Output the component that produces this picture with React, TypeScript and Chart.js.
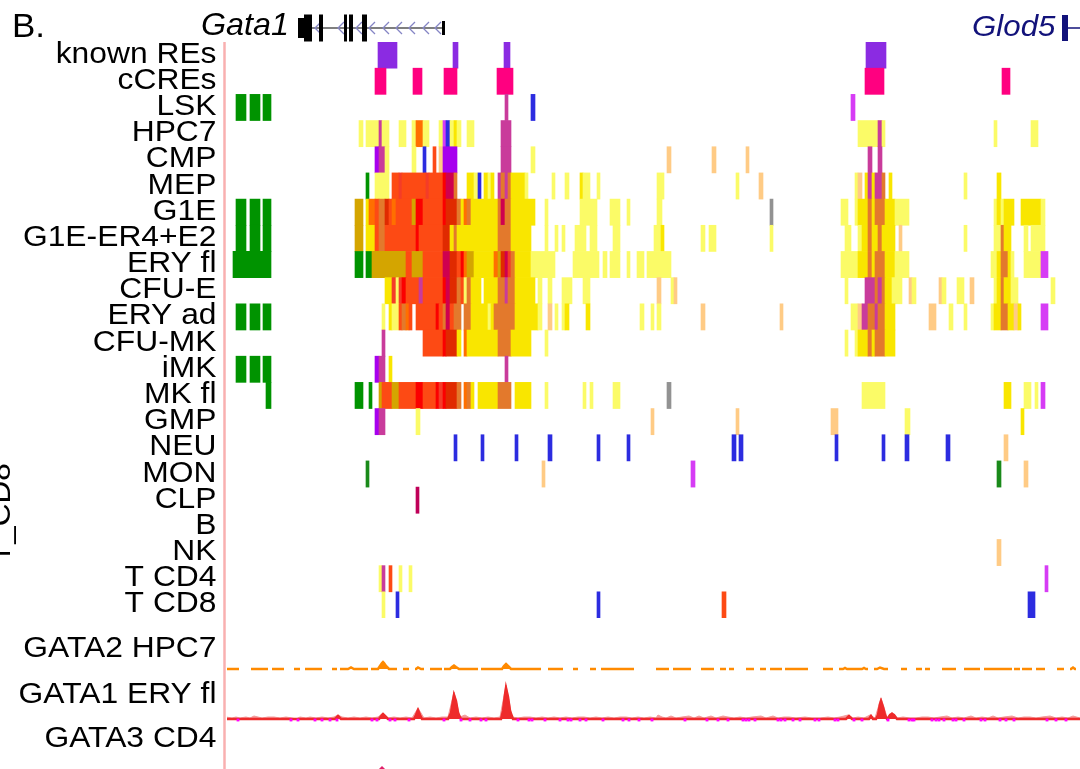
import React, { useEffect, useRef } from 'react';
import { Chart, registerables } from 'chart.js';

Chart.register(...registerables);

// ------------------------------------------------------------------
// DATA
// ------------------------------------------------------------------
// Browser coordinate range shown on the x axis (arbitrary position units)
const xMin = 227;
const xMax = 1080;

const rowLabels = [
  'known REs', 'cCREs', 'LSK', 'HPC7', 'CMP', 'MEP', 'G1E', 'G1E-ER4+E2', 'ERY fl', 'CFU-E',
  'ERY ad', 'CFU-MK', 'iMK', 'MK fl', 'GMP', 'NEU', 'MON', 'CLP', 'B', 'NK', 'T CD4', 'T CD8',
];

// Segments: [start, end, state]
type Seg = [number, number, string];

const knownREs: Seg[] = [[378, 397, 're'], [453, 458, 're'], [504, 510, 're'], [866, 886, 're']];
const cCREs: Seg[] = [[375, 386, 'cc'], [413, 422, 'cc'], [444, 457, 'cc'], [497, 513, 'cc'], [865, 884, 'cc'], [1002, 1010, 'cc']];
const LSK: Seg[] = [[236, 246, 'gr'], [250, 260, 'gr'], [263, 271, 'gr'], [505, 508, 'm'], [531, 535, 'b'], [851, 855, 'v']];
const HPC7: Seg[] = [[359, 363, 'ly'], [366, 379, 'ly'], [379, 382, 'm'], [382, 389, 'ly'], [399, 406, 'ly'], [412, 416, 'ly'], [416, 423, 'bo'], [423, 429, 'ly'], [439, 443, 'ly'], [443, 446, 'v'], [446, 450, 'b'], [450, 454, 'ly'], [454, 457, 'y'], [457, 461, 'ly'], [467, 474, 'ly'], [501, 511, 'm'], [858, 878, 'ly'], [878, 882, 'm'], [882, 885, 'ly'], [994, 997, 'ly'], [1031, 1038, 'ly']];
const CMP: Seg[] = [[375, 379, 'p'], [379, 385, 'm'], [385, 389, 'ly'], [412, 416, 'ly'], [423, 426, 'b'], [433, 436, 'or'], [439, 443, 'pe'], [443, 457, 'p'], [501, 511, 'm'], [531, 535, 'ly'], [667, 671, 'pe'], [712, 716, 'pe'], [746, 749, 'pe'], [868, 872, 'm'], [878, 882, 'm']];
const MEP: Seg[] = [[366, 369, 'gr'], [375, 389, 'ly'], [392, 399, 'or'], [399, 402, 'r2'], [402, 426, 'or'], [426, 429, 'r2'], [429, 443, 'or'], [443, 446, 'r'], [446, 454, 'cr'], [454, 457, 'o'], [467, 474, 'y'], [474, 478, 'ly'], [478, 481, 'b'], [484, 488, 'y'], [488, 491, 'ly'], [491, 494, 'y'], [498, 501, 'm'], [501, 505, 'o'], [505, 508, 'm'], [508, 511, 'o'], [511, 525, 'y'], [525, 528, 'ly'], [552, 555, 'ly'], [565, 569, 'ly'], [580, 583, 'y'], [583, 590, 'ly'], [597, 600, 'ly'], [657, 664, 'ly'], [736, 739, 'ly'], [759, 763, 'pe'], [855, 858, 'ly'], [858, 862, 'pe'], [865, 868, 'y'], [868, 872, 'm'], [872, 875, 'y'], [875, 882, 'm'], [882, 885, 'o'], [889, 892, 'y'], [964, 967, 'ly'], [997, 1001, 'y']];
const G1E: Seg[] = [[236, 246, 'gr'], [250, 260, 'gr'], [263, 271, 'gr'], [355, 363, 'g'], [366, 369, 'y'], [369, 375, 'bo'], [375, 379, 'or'], [379, 385, 'o'], [385, 389, 'dr'], [389, 392, 'or'], [392, 396, 'bo'], [396, 412, 'or'], [412, 416, 'g'], [416, 423, 'r'], [423, 443, 'or'], [443, 446, 'r'], [446, 457, 'dr'], [457, 461, 'o'], [461, 464, 'y'], [464, 467, 'bo'], [467, 471, 'o'], [471, 498, 'y'], [498, 501, 'o'], [501, 505, 'cr'], [505, 511, 'o'], [511, 535, 'y'], [545, 548, 'ly'], [580, 597, 'ly'], [610, 620, 'ly'], [627, 630, 'ly'], [657, 662, 'ly'], [770, 773, 'gy'], [841, 848, 'ly'], [855, 858, 'ly'], [858, 868, 'y'], [868, 872, 'o'], [872, 875, 'y'], [875, 885, 'o'], [885, 895, 'y'], [895, 909, 'ly'], [994, 997, 'ly'], [997, 1001, 'y'], [1001, 1004, 'ly'], [1004, 1014, 'y'], [1021, 1041, 'y'], [1041, 1045, 'ly']];
const G1E_ER4_E2: Seg[] = [[236, 246, 'gr'], [250, 260, 'gr'], [263, 271, 'gr'], [355, 363, 'g'], [366, 375, 'y'], [375, 379, 'or'], [379, 385, 'o'], [385, 416, 'or'], [416, 419, 'r'], [419, 443, 'or'], [443, 450, 'dr'], [450, 454, 'y'], [454, 457, 'o'], [457, 498, 'y'], [498, 511, 'o'], [511, 531, 'y'], [545, 548, 'ly'], [555, 558, 'ly'], [562, 565, 'ly'], [575, 586, 'ly'], [590, 597, 'ly'], [613, 620, 'ly'], [654, 661, 'ly'], [661, 664, 'y'], [701, 705, 'ly'], [709, 716, 'ly'], [770, 773, 'ly'], [845, 851, 'ly'], [858, 862, 'ly'], [862, 868, 'y'], [868, 872, 'o'], [872, 878, 'y'], [878, 882, 'o'], [882, 895, 'y'], [899, 902, 'pe'], [964, 967, 'ly'], [994, 1001, 'ly'], [1001, 1004, 'o'], [1004, 1011, 'y'], [1024, 1028, 'ly'], [1031, 1045, 'ly']];
const ERY_fl: Seg[] = [[233, 271, 'gr'], [355, 363, 'gr'], [366, 372, 'gr'], [372, 406, 'g'], [406, 412, 'or'], [412, 423, 'g'], [423, 443, 'or'], [443, 450, 'cr'], [450, 457, 'dr'], [457, 461, 'or'], [461, 464, 'r'], [464, 467, 'bo'], [467, 474, 'g'], [474, 494, 'y'], [494, 498, 'bo'], [498, 501, 'g'], [501, 505, 'dr'], [505, 508, 'cr'], [508, 511, 'r2'], [511, 515, 'o'], [515, 531, 'y'], [531, 555, 'ly'], [573, 599, 'ly'], [603, 607, 'ly'], [610, 620, 'ly'], [627, 630, 'ly'], [637, 644, 'ly'], [647, 671, 'ly'], [841, 858, 'ly'], [858, 868, 'y'], [868, 872, 'o'], [872, 875, 'y'], [875, 885, 'o'], [885, 895, 'y'], [895, 909, 'ly'], [991, 997, 'ly'], [997, 1001, 'y'], [1001, 1008, 'o'], [1008, 1011, 'y'], [1011, 1014, 'ly'], [1024, 1041, 'ly'], [1041, 1048, 'v']];
const CFU_E: Seg[] = [[385, 392, 'y'], [392, 396, 'r2'], [396, 399, 'ly'], [399, 402, 'r2'], [402, 406, 'r'], [406, 419, 'or'], [419, 423, 'm'], [423, 443, 'or'], [443, 446, 'r'], [446, 450, 'cr'], [450, 457, 'dr'], [457, 461, 'o'], [461, 464, 'or'], [464, 467, 'ly'], [467, 471, 'o'], [471, 481, 'y'], [484, 498, 'y'], [498, 505, 'o'], [505, 508, 'm'], [508, 515, 'o'], [515, 535, 'y'], [538, 542, 'ly'], [548, 552, 'ly'], [562, 572, 'ly'], [583, 590, 'ly'], [657, 661, 'pe'], [671, 674, 'ly'], [674, 677, 'pe'], [845, 848, 'ly'], [865, 875, 'm'], [875, 878, 'o'], [878, 882, 'm'], [882, 885, 'o'], [885, 892, 'y'], [892, 902, 'ly'], [909, 912, 'pe'], [912, 916, 'ly'], [939, 942, 'pe'], [942, 946, 'ly'], [957, 964, 'ly'], [970, 974, 'pe'], [994, 997, 'ly'], [997, 1001, 'y'], [1001, 1004, 'o'], [1004, 1011, 'y'], [1011, 1018, 'ly'], [1051, 1055, 'ly']];
const ERY_ad: Seg[] = [[236, 246, 'gr'], [250, 260, 'gr'], [263, 271, 'gr'], [382, 385, 'ly'], [389, 392, 'y'], [392, 399, 'ly'], [399, 402, 'or'], [402, 406, 'o'], [406, 409, 'bo'], [409, 412, 'or'], [416, 436, 'or'], [436, 439, 'r'], [439, 443, 'or'], [443, 446, 'o'], [446, 450, 'cr'], [450, 454, 'or'], [454, 461, 'o'], [464, 471, 'o'], [471, 488, 'y'], [488, 491, 'ly'], [491, 494, 'y'], [494, 515, 'o'], [515, 538, 'y'], [538, 542, 'ly'], [548, 552, 'pe'], [555, 558, 'ly'], [562, 565, 'ly'], [565, 569, 'y'], [586, 590, 'y'], [640, 644, 'ly'], [651, 654, 'ly'], [657, 661, 'ly'], [701, 705, 'pe'], [780, 783, 'pe'], [851, 858, 'ly'], [858, 862, 'pe'], [862, 868, 'm'], [868, 875, 'o'], [875, 878, 'm'], [878, 885, 'o'], [885, 895, 'y'], [929, 936, 'pe'], [949, 953, 'ly'], [964, 967, 'ly'], [991, 994, 'ly'], [994, 1001, 'y'], [1001, 1008, 'o'], [1008, 1014, 'y'], [1014, 1018, 'pe'], [1018, 1021, 'y'], [1041, 1048, 'v']];
const CFU_MK: Seg[] = [[382, 385, 'm'], [423, 443, 'or'], [443, 446, 'r'], [446, 457, 'dr'], [457, 461, 'y'], [464, 467, 'bo'], [467, 498, 'y'], [498, 511, 'o'], [511, 531, 'y'], [545, 548, 'ly'], [845, 848, 'ly'], [855, 858, 'ly'], [858, 868, 'y'], [868, 872, 'o'], [872, 875, 'y'], [875, 885, 'o'], [885, 895, 'y']];
const iMK: Seg[] = [[236, 246, 'gr'], [250, 260, 'gr'], [263, 271, 'gr'], [375, 379, 'p'], [379, 385, 'm'], [389, 392, 'y'], [505, 508, 'm']];
const MK_fl: Seg[] = [[266, 271, 'gr'], [355, 363, 'gr'], [369, 372, 'gr'], [379, 382, 'g'], [382, 392, 'or'], [392, 399, 'g'], [399, 416, 'or'], [416, 423, 'r'], [423, 436, 'or'], [436, 439, 'r'], [439, 443, 'r2'], [443, 446, 'r'], [446, 457, 'dr'], [457, 461, 'o'], [464, 467, 'bo'], [467, 471, 'o'], [471, 474, 'y'], [478, 498, 'y'], [498, 511, 'o'], [515, 531, 'y'], [545, 548, 'ly'], [583, 586, 'ly'], [590, 593, 'ly'], [613, 620, 'ly'], [667, 671, 'gy'], [862, 885, 'ly'], [1004, 1011, 'y'], [1024, 1031, 'ly'], [1035, 1038, 'ly'], [1041, 1045, 'v']];
const GMP: Seg[] = [[375, 379, 'p'], [379, 385, 'm'], [416, 420, 'ly'], [651, 654, 'pe'], [736, 739, 'pe'], [831, 838, 'pe'], [905, 910, 'ly'], [1021, 1024, 'y']];
const NEU: Seg[] = [[454, 457, 'b'], [481, 484, 'b'], [515, 518, 'b'], [548, 552, 'b'], [597, 600, 'b'], [627, 630, 'b'], [732, 736, 'b'], [739, 743, 'b'], [835, 838, 'b'], [882, 885, 'b'], [905, 909, 'b'], [946, 950, 'b'], [1004, 1008, 'pe']];
const MON: Seg[] = [[366, 369, 'gr2'], [542, 545, 'pe'], [691, 695, 'v'], [997, 1001, 'gr2'], [1024, 1028, 'pe']];
const CLP: Seg[] = [[416, 419, 'cr2']];
const B_cells: Seg[] = [];
const NK: Seg[] = [[997, 1001, 'pe']];
const T_CD4: Seg[] = [[379, 382, 'ly'], [382, 385, 'm'], [389, 392, 'or'], [399, 402, 'ly'], [409, 412, 'ly'], [1045, 1048, 'v']];
const T_CD8: Seg[] = [[382, 385, 'ly'], [396, 399, 'b'], [597, 600, 'b'], [722, 726, 'or'], [1028, 1035, 'b']];

const tracks: Seg[][] = [knownREs, cCREs, LSK, HPC7, CMP, MEP, G1E, G1E_ER4_E2, ERY_fl, CFU_E, ERY_ad, CFU_MK, iMK, MK_fl, GMP, NEU, MON, CLP, B_cells, NK, T_CD4, T_CD8];

// Gene annotation (Gata1, minus strand) and Glod5 start
const gata1Exons: [number, number, string][] = [[298, 304, 'utr'], [304, 312, 'cds'], [319, 323, 'cds'], [344, 347, 'cds'], [349, 353, 'cds'], [362, 367, 'cds']];
const gata1Span: [number, number] = [298, 445];
const gata1Chevrons = [316, 339, 357, 370, 384, 397, 410, 424, 436];
const glod5Exon: [number, number] = [1062, 1068];

// Signal tracks
const gata2Coverage: [number, number][] = [
  [226, 239], [251, 268], [272, 284], [294, 300], [305, 322], [332, 337], [340, 368], [371, 397], [403, 409], [415, 424],
  [430, 442], [444, 478], [481, 541], [548, 563], [573, 578], [590, 596], [601, 634], [656, 669], [673, 691], [701, 714],
  [720, 726], [729, 734], [746, 754], [760, 766], [770, 782], [785, 808], [823, 833], [839, 868], [874, 888], [901, 907],
  [916, 922], [925, 930], [942, 956], [964, 980], [984, 1012], [1014, 1020], [1022, 1032], [1036, 1045], [1057, 1064], [1070, 1076],
];
const gata2Peaks: [number, number][] = [
  [348, 0], [351, 1.5], [354, 0], [378, 0], [380, 3], [382, 6], [383, 7], [384, 6], [386, 3], [389, 0],
  [416, 0], [418, 1.5], [421, 0], [450, 0], [452, 2], [454, 3.5], [456, 2], [459, 0],
  [502, 0], [504, 3], [506, 5], [508, 3], [511, 0], [843, 0], [845, 1], [847, 0], [862, 0], [864, 1], [866, 0],
  [877, 0], [880, 1.5], [884, 0], [1071, 0], [1073, 1.5], [1075, 0],
];

const gata1Core: [number, number][] = [
  [226, 0], [335, 0], [338, 3], [341, 0], [379, 0], [382, 4], [383, 5], [385, 3], [388, 0],
  [414, 0], [416, 4], [418, 9], [420, 4], [422, 0], [448, 0], [451, 6], [453, 18], [454, 24], [456, 18], [458, 6], [461, 0],
  [501, 0], [503, 8], [505, 24], [506, 31], [508, 22], [510, 8], [513, 0], [846, 0], [849, 3], [852, 0],
  [869, 0], [871, 3], [873, 0], [876, 0], [878, 4], [880, 15], [881, 18], [883, 12], [885, 4], [887, 0],
  [888, 0], [890, 4], [892, 5], [894, 4], [897, 0], [1080, 0],
];
const gata1Halo: [number, number][] = [
  [226, 2], [232, 1], [236, 2], [240, 1], [246, 2], [250, 1], [254, 3], [258, 2], [262, 1], [268, 2], [274, 2], [280, 1],
  [286, 2], [292, 1], [296, 0], [300, 2], [306, 1], [310, 2], [316, 1], [322, 2], [328, 1], [334, 2], [338, 4], [342, 2],
  [348, 1], [354, 2], [360, 1], [366, 2], [372, 1], [378, 2], [383, 6], [388, 1], [394, 2], [400, 1], [406, 2], [412, 1],
  [418, 11], [424, 1], [430, 2], [436, 1], [442, 2], [448, 2], [454, 27], [460, 2], [465, 4], [470, 1], [476, 2], [482, 1],
  [488, 2], [494, 1], [500, 2], [506, 34], [512, 2], [518, 1], [524, 2], [530, 2], [536, 1], [542, 2], [548, 1], [554, 2],
  [560, 1], [566, 2], [572, 1], [578, 2], [584, 2], [590, 1], [596, 2], [602, 1], [608, 2], [614, 1], [620, 2], [626, 2],
  [632, 1], [638, 2], [644, 1], [650, 2], [656, 1], [658, 4], [662, 2], [666, 1], [671, 3], [676, 1], [682, 2], [689, 3],
  [694, 1], [699, 3], [704, 1], [711, 3], [716, 1], [723, 3], [728, 2], [734, 1], [740, 2], [746, 1], [752, 2], [761, 3],
  [766, 1], [773, 3], [778, 1], [784, 2], [789, 2], [796, 1], [805, 2], [812, 1], [820, 1], [828, 2], [834, 1], [840, 2],
  [848, 4], [853, 1], [858, 2], [864, 1], [870, 4], [875, 1], [881, 21], [887, 2], [892, 7], [897, 1], [903, 2], [910, 1],
  [916, 1], [922, 2], [928, 2], [934, 1], [940, 2], [947, 3], [952, 1], [958, 2], [964, 1], [971, 3], [976, 1], [982, 2],
  [988, 1], [993, 3], [998, 1], [1004, 2], [1012, 3], [1018, 1], [1024, 2], [1030, 2], [1036, 1], [1042, 2], [1050, 3],
  [1056, 1], [1062, 2], [1068, 1], [1073, 3], [1080, 1],
];
const gata1Marks = [
  238, 291, 298, 315, 322, 330, 337, 372, 377, 390, 395, 409, 444, 461, 470, 481, 486, 518, 529, 532, 545, 560, 568, 571,
  580, 586, 603, 623, 629, 639, 652, 685, 707, 718, 728, 743, 746, 749, 755, 778, 781, 785, 793, 800, 815, 819, 835, 838,
  854, 862, 888, 909, 912, 914, 932, 936, 939, 944, 953, 956, 964, 981, 985, 1000, 1006, 1014, 1047, 1056, 1066,
];
const gata3Core: [number, number][] = [[377, 0], [380, 3], [382, 5], [384, 3], [387, 0]];

const signalLabels = ['GATA2 HPC7', 'GATA1 ERY fl', 'GATA3 CD4'];

// ------------------------------------------------------------------
// STYLES
// ------------------------------------------------------------------
const stateColors: Record<string, string> = {
  ly: '#fbfb67', y: '#f9e600', g: '#d4a500', or: '#fd4a14', r2: '#f43c28', r: '#fb0000', dr: '#e02a00',
  cr: '#cf004f', cr2: '#bf0058', o: '#e3792c', bo: '#ff6f00', m: '#c93b9b', v: '#d63cf5', p: '#a700ee',
  b: '#2c2ce0', gr: '#009300', gr2: '#1a8a1a', pe: '#ffcb85', gy: '#929292', cc: '#ff0080', re: '#8b2be2',
};
const FONT = '"Liberation Sans", Arial, Helvetica, sans-serif';
const H_SCALE = 1.06;
const W = 1080;
const H = 769;
const PLOT_LEFT = 227;

function drawText(ctx: CanvasRenderingContext2D, text: string, x: number, y: number, align: CanvasTextAlign, font: string, color: string) {
  ctx.save();
  ctx.font = font;
  ctx.fillStyle = color;
  ctx.textAlign = align;
  ctx.textBaseline = 'alphabetic';
  ctx.translate(x, y);
  ctx.scale(H_SCALE, 1);
  ctx.fillText(text, 0, 0);
  ctx.restore();
}

const decorPlugin = {
  id: 'decor',
  afterDraw(chart: any) {
    const ctx: CanvasRenderingContext2D = chart.ctx;
    const xs = chart.scales.x;
    const ys = chart.scales.y;
    ctx.save();
    // pink divider
    ctx.strokeStyle = '#f9b0b0';
    ctx.lineWidth = 2.5;
    ctx.beginPath();
    ctx.moveTo(224.5, 42);
    ctx.lineTo(224.5, H);
    ctx.stroke();

    // row labels
    rowLabels.forEach((lab, i) => {
      const yc = ys.getPixelForValue(i);
      drawText(ctx, lab, 216.5, yc + 7.5, 'right', `30px ${FONT}`, '#000');
    });
    // signal labels
    const sigBase = [656.5, 702.5, 746.5];
    signalLabels.forEach((lab, i) => drawText(ctx, lab, 216.5, sigBase[i], 'right', `30px ${FONT}`, '#000'));

    // panel letter
    drawText(ctx, 'B.', 12, 37, 'left', `33px ${FONT}`, '#000');
    // gene names
    drawText(ctx, 'Gata1', 289, 35, 'right', `italic 30.5px ${FONT}`, '#000');
    drawText(ctx, 'Glod5', 972, 36, 'left', `italic 29.5px ${FONT}`, '#12127a');

    // Gata1 gene model
    const px = (v: number) => xs.getPixelForValue(v);
    const lineY = 28;
    ctx.strokeStyle = '#000';
    ctx.lineWidth = 1.2;
    ctx.beginPath();
    ctx.moveTo(px(gata1Span[0]), lineY);
    ctx.lineTo(px(gata1Span[1]), lineY);
    ctx.stroke();
    ctx.strokeStyle = '#8585c5';
    ctx.lineWidth = 1.3;
    gata1Chevrons.forEach((c) => {
      const x0 = px(c);
      ctx.beginPath();
      ctx.moveTo(x0 + 5, lineY - 6);
      ctx.lineTo(x0 - 1, lineY);
      ctx.lineTo(x0 + 5, lineY + 6);
      ctx.stroke();
    });
    ctx.fillStyle = '#000';
    gata1Exons.forEach(([s, e, k]) => {
      const h = k === 'utr' ? 20 : 27;
      ctx.fillRect(px(s), lineY - h / 2, px(e) - px(s), h);
    });
    ctx.fillRect(px(gata1Span[1]) - 3, lineY - 7, 3, 14);
    // Glod5
    ctx.fillStyle = '#12127a';
    ctx.fillRect(px(glod5Exon[0]), lineY - 13, px(glod5Exon[1]) - px(glod5Exon[0]), 26);
    ctx.strokeStyle = '#12127a';
    ctx.lineWidth = 1.5;
    ctx.beginPath();
    ctx.moveTo(px(glod5Exon[1]), lineY);
    ctx.lineTo(W, lineY);
    ctx.stroke();

    // clipped rotated label at the far left
    ctx.save();
    ctx.translate(10, 513);
    ctx.rotate(-Math.PI / 2);
    ctx.font = `30px ${FONT}`;
    ctx.fillStyle = '#000';
    ctx.textAlign = 'center';
    ctx.textBaseline = 'alphabetic';
    ctx.scale(1.05, 1);
    ctx.fillText('T_CD8', 0, 0);
    ctx.restore();
    ctx.restore();
  },
};

function buildBarData() {
  const out: any[] = [];
  tracks.forEach((segs, i) => {
    segs.forEach(([s, e, st]) => out.push({ x: [s, e], y: rowLabels[i], s: st }));
  });
  return out;
}

function buildCoverageLine(cov: [number, number][], peaks: [number, number][]) {
  const out: any[] = [];
  cov.forEach(([s, e]) => {
    out.push({ x: s, y: 0 });
    peaks.filter(([px]) => px > s && px < e).forEach(([px, v]) => out.push({ x: px, y: v }));
    out.push({ x: e, y: 0 });
    out.push({ x: e + 0.5, y: null });
  });
  return out;
}

const pts = (arr: [number, number][]) => arr.map(([x, y]) => ({ x, y }));

function signalOptions(yMin: number, yMax: number) {
  return {
    responsive: false,
    animation: false as const,
    events: [],
    layout: { padding: { left: PLOT_LEFT, right: 0, top: 0, bottom: 0 }, autoPadding: false },
    plugins: { legend: { display: false }, tooltip: { enabled: false } },
    scales: {
      x: { type: 'linear' as const, min: xMin, max: xMax, display: false },
      y: { type: 'linear' as const, min: yMin, max: yMax, display: false },
    },
    elements: { point: { radius: 0 }, line: { tension: 0 } },
  };
}

export default function App() {
  const mainRef = useRef<HTMLCanvasElement>(null);
  const g2Ref = useRef<HTMLCanvasElement>(null);
  const g1Ref = useRef<HTMLCanvasElement>(null);
  const g3Ref = useRef<HTMLCanvasElement>(null);

  useEffect(() => {
    const charts: Chart[] = [];
    charts.push(
      new Chart(mainRef.current as HTMLCanvasElement, {
        type: 'bar',
        data: {
          datasets: [
            {
              data: buildBarData(),
              backgroundColor: (c: any) => stateColors[c.raw?.s] || '#000',
              borderWidth: 0,
              barPercentage: 1,
              categoryPercentage: 1,
              grouped: false,
              borderSkipped: false,
            } as any,
          ],
        },
        options: {
          indexAxis: 'y',
          responsive: false,
          animation: false,
          events: [],
          layout: { padding: { left: PLOT_LEFT, right: 0, top: 42, bottom: H - 618 }, autoPadding: false },
          plugins: { legend: { display: false }, tooltip: { enabled: false } },
          scales: {
            x: { type: 'linear', min: xMin, max: xMax, display: false },
            y: { type: 'category', labels: rowLabels, display: false, offset: true },
          },
        } as any,
        plugins: [decorPlugin],
      })
    );
    charts.push(
      new Chart(g2Ref.current as HTMLCanvasElement, {
        type: 'line',
        data: {
          datasets: [
            {
              data: buildCoverageLine(gata2Coverage, gata2Peaks),
              borderColor: '#ff8a00',
              backgroundColor: '#ff8a00',
              borderWidth: 2.5,
              fill: 'origin',
              spanGaps: false,
            },
          ],
        },
        options: signalOptions(-3, 29) as any,
      })
    );
    charts.push(
      new Chart(g1Ref.current as HTMLCanvasElement, {
        type: 'line',
        data: {
          datasets: [
            {
              data: gata1Marks.map((x) => ({ x, y: -1 })),
              showLine: false,
              pointStyle: 'rect',
              pointRadius: 2,
              pointBackgroundColor: '#ff00ff',
              pointBorderWidth: 0,
              borderColor: '#ff00ff',
              order: 0,
            } as any,
            {
              data: pts(gata1Core),
              borderColor: '#ee2b2b',
              backgroundColor: '#ee2b2b',
              borderWidth: 2.5,
              fill: 'origin',
              order: 1,
            },
            {
              data: pts(gata1Halo),
              borderColor: '#f49a9a',
              backgroundColor: '#f49a9a',
              borderWidth: 1,
              fill: 'origin',
              order: 2,
            },
          ],
        },
        options: signalOptions(-5, 39) as any,
      })
    );
    charts.push(
      new Chart(g3Ref.current as HTMLCanvasElement, {
        type: 'line',
        data: {
          datasets: [
            {
              data: pts(gata3Core),
              borderColor: '#e0206a',
              backgroundColor: '#e0206a',
              borderWidth: 1.5,
              fill: 'origin',
            },
          ],
        },
        options: signalOptions(-3, 17) as any,
      })
    );
    return () => charts.forEach((c) => c.destroy());
  }, []);

  const abs = (top: number, h: number): React.CSSProperties => ({ position: 'absolute', left: 0, top, width: W, height: h });

  return (
    <div style={{ position: 'fixed', left: 0, top: 0, width: W, height: H, overflow: 'hidden', background: '#fff' }}>
      <canvas ref={mainRef} width={W} height={H} style={abs(0, H)} />
      <canvas ref={g2Ref} width={W} height={32} style={abs(640, 32)} />
      <canvas ref={g1Ref} width={W} height={44} style={abs(680, 44)} />
      <canvas ref={g3Ref} width={W} height={20} style={abs(755, 20)} />
    </div>
  );
}
